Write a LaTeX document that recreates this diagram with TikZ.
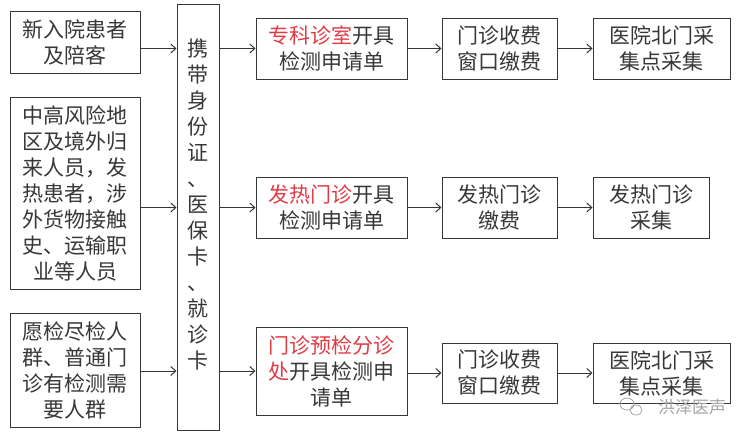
\documentclass[tikz,border=0pt]{standalone}
\usepackage{fontspec}
\usepackage{xcolor}
\usepackage{tikz}
\usetikzlibrary{positioning,arrows.meta}
\newfontfamily\cjk{Noto Sans CJK SC}
\definecolor{inkgray}{RGB}{55,55,55}
\definecolor{hotred}{RGB}{224,60,70}
\definecolor{markgray}{RGB}{165,165,165}

\begin{document}
\begin{tikzpicture}[x=1pt, y=-1pt,
  every node/.style={font=\cjk\fontsize{21}{26}\selectfont, text=inkgray},
  box/.style={rectangle, draw=inkgray, line width=1pt, align=center, inner sep=0pt},
  arr/.style={draw=inkgray, line width=1pt, -{Straight Barb[length=5pt, width=9pt]}}
]
  \useasboundingbox[fill=white] (0,0) rectangle (752,440);

  % who comes
  \node[box, minimum width=130, minimum height=62] (newin) at (75,42)
       {新入院患者\\及陪客};
  \node[box, minimum width=130, minimum height=192] (risk) at (75,193)
       {中高风险地\\区及境外归\\来人员，发\\热患者，涉\\外货物接触\\史、运输职\\业等人员};
  \node[box, minimum width=130, minimum height=114] (will) at (75,370)
       {愿检尽检人\\群、普通门\\诊有检测需\\要人群};

  % documents
  \node[box, minimum width=42, minimum height=426] (cards) at (198,217) {};
  \node[align=center] at (198,204)
       {携\\带\\身\\份\\证\\、\\医\\保\\卡\\、\\就\\诊\\卡};

  % row 1
  \node[box, minimum width=151, minimum height=61] (order1) at (331.5,48.5)
       {\textcolor{hotred}{专科诊室}开具\\检测申请单};
  \node[box, minimum width=115, minimum height=61] (pay1) at (499.5,48.5)
       {门诊收费\\窗口缴费};
  \node[box, minimum width=137, minimum height=61] (swab1) at (661.5,48.5)
       {医院北门采\\集点采集};

  % row 2
  \node[box, minimum width=151, minimum height=61] (order2) at (331.5,207.5)
       {\textcolor{hotred}{发热门诊}开具\\检测申请单};
  \node[box, minimum width=115, minimum height=61] (pay2) at (499.5,207.5)
       {发热门诊\\缴费};
  \node[box, minimum width=116, minimum height=61] (swab2) at (651,207.5)
       {发热门诊\\采集};

  % row 3
  \node[box, minimum width=151, minimum height=88] (order3) at (331.5,371)
       {\textcolor{hotred}{门诊预检分诊}\\\textcolor{hotred}{处}开具检测申\\请单};
  \node[box, minimum width=115, minimum height=60] (pay3) at (499.5,373)
       {门诊收费\\窗口缴费};
  \node[box, minimum width=137, minimum height=60] (swab3) at (661.5,373)
       {医院北门采\\集点采集};

  % watermark
  \node[font=\cjk\fontsize{17}{17}\selectfont, text=markgray] (mark) at (692,407) {洪泽医声};
  \draw[markgray, line width=0.8pt] (627,404) ellipse (7 and 6) (636,410) ellipse (6 and 5);

  \draw[arr] (newin.east |- order1.west) -- (cards.west |- order1.west);
  \draw[arr] (risk.east |- order2.west) -- (cards.west |- order2.west);
  \draw[arr] (will.east |- order3.west) -- (cards.west |- order3.west);
  \draw[arr] (cards.east |- order1.west) -- (order1.west);
  \draw[arr] (cards.east |- order2.west) -- (order2.west);
  \draw[arr] (cards.east |- order3.west) -- (order3.west);
  \draw[arr] (order1) -- (pay1);
  \draw[arr] (pay1) -- (swab1);
  \draw[arr] (order2) -- (pay2);
  \draw[arr] (pay2) -- (swab2);
  \draw[arr] (order3.east |- pay3.west) -- (pay3.west);
  \draw[arr] (pay3) -- (swab3);
\end{tikzpicture}
\end{document}
